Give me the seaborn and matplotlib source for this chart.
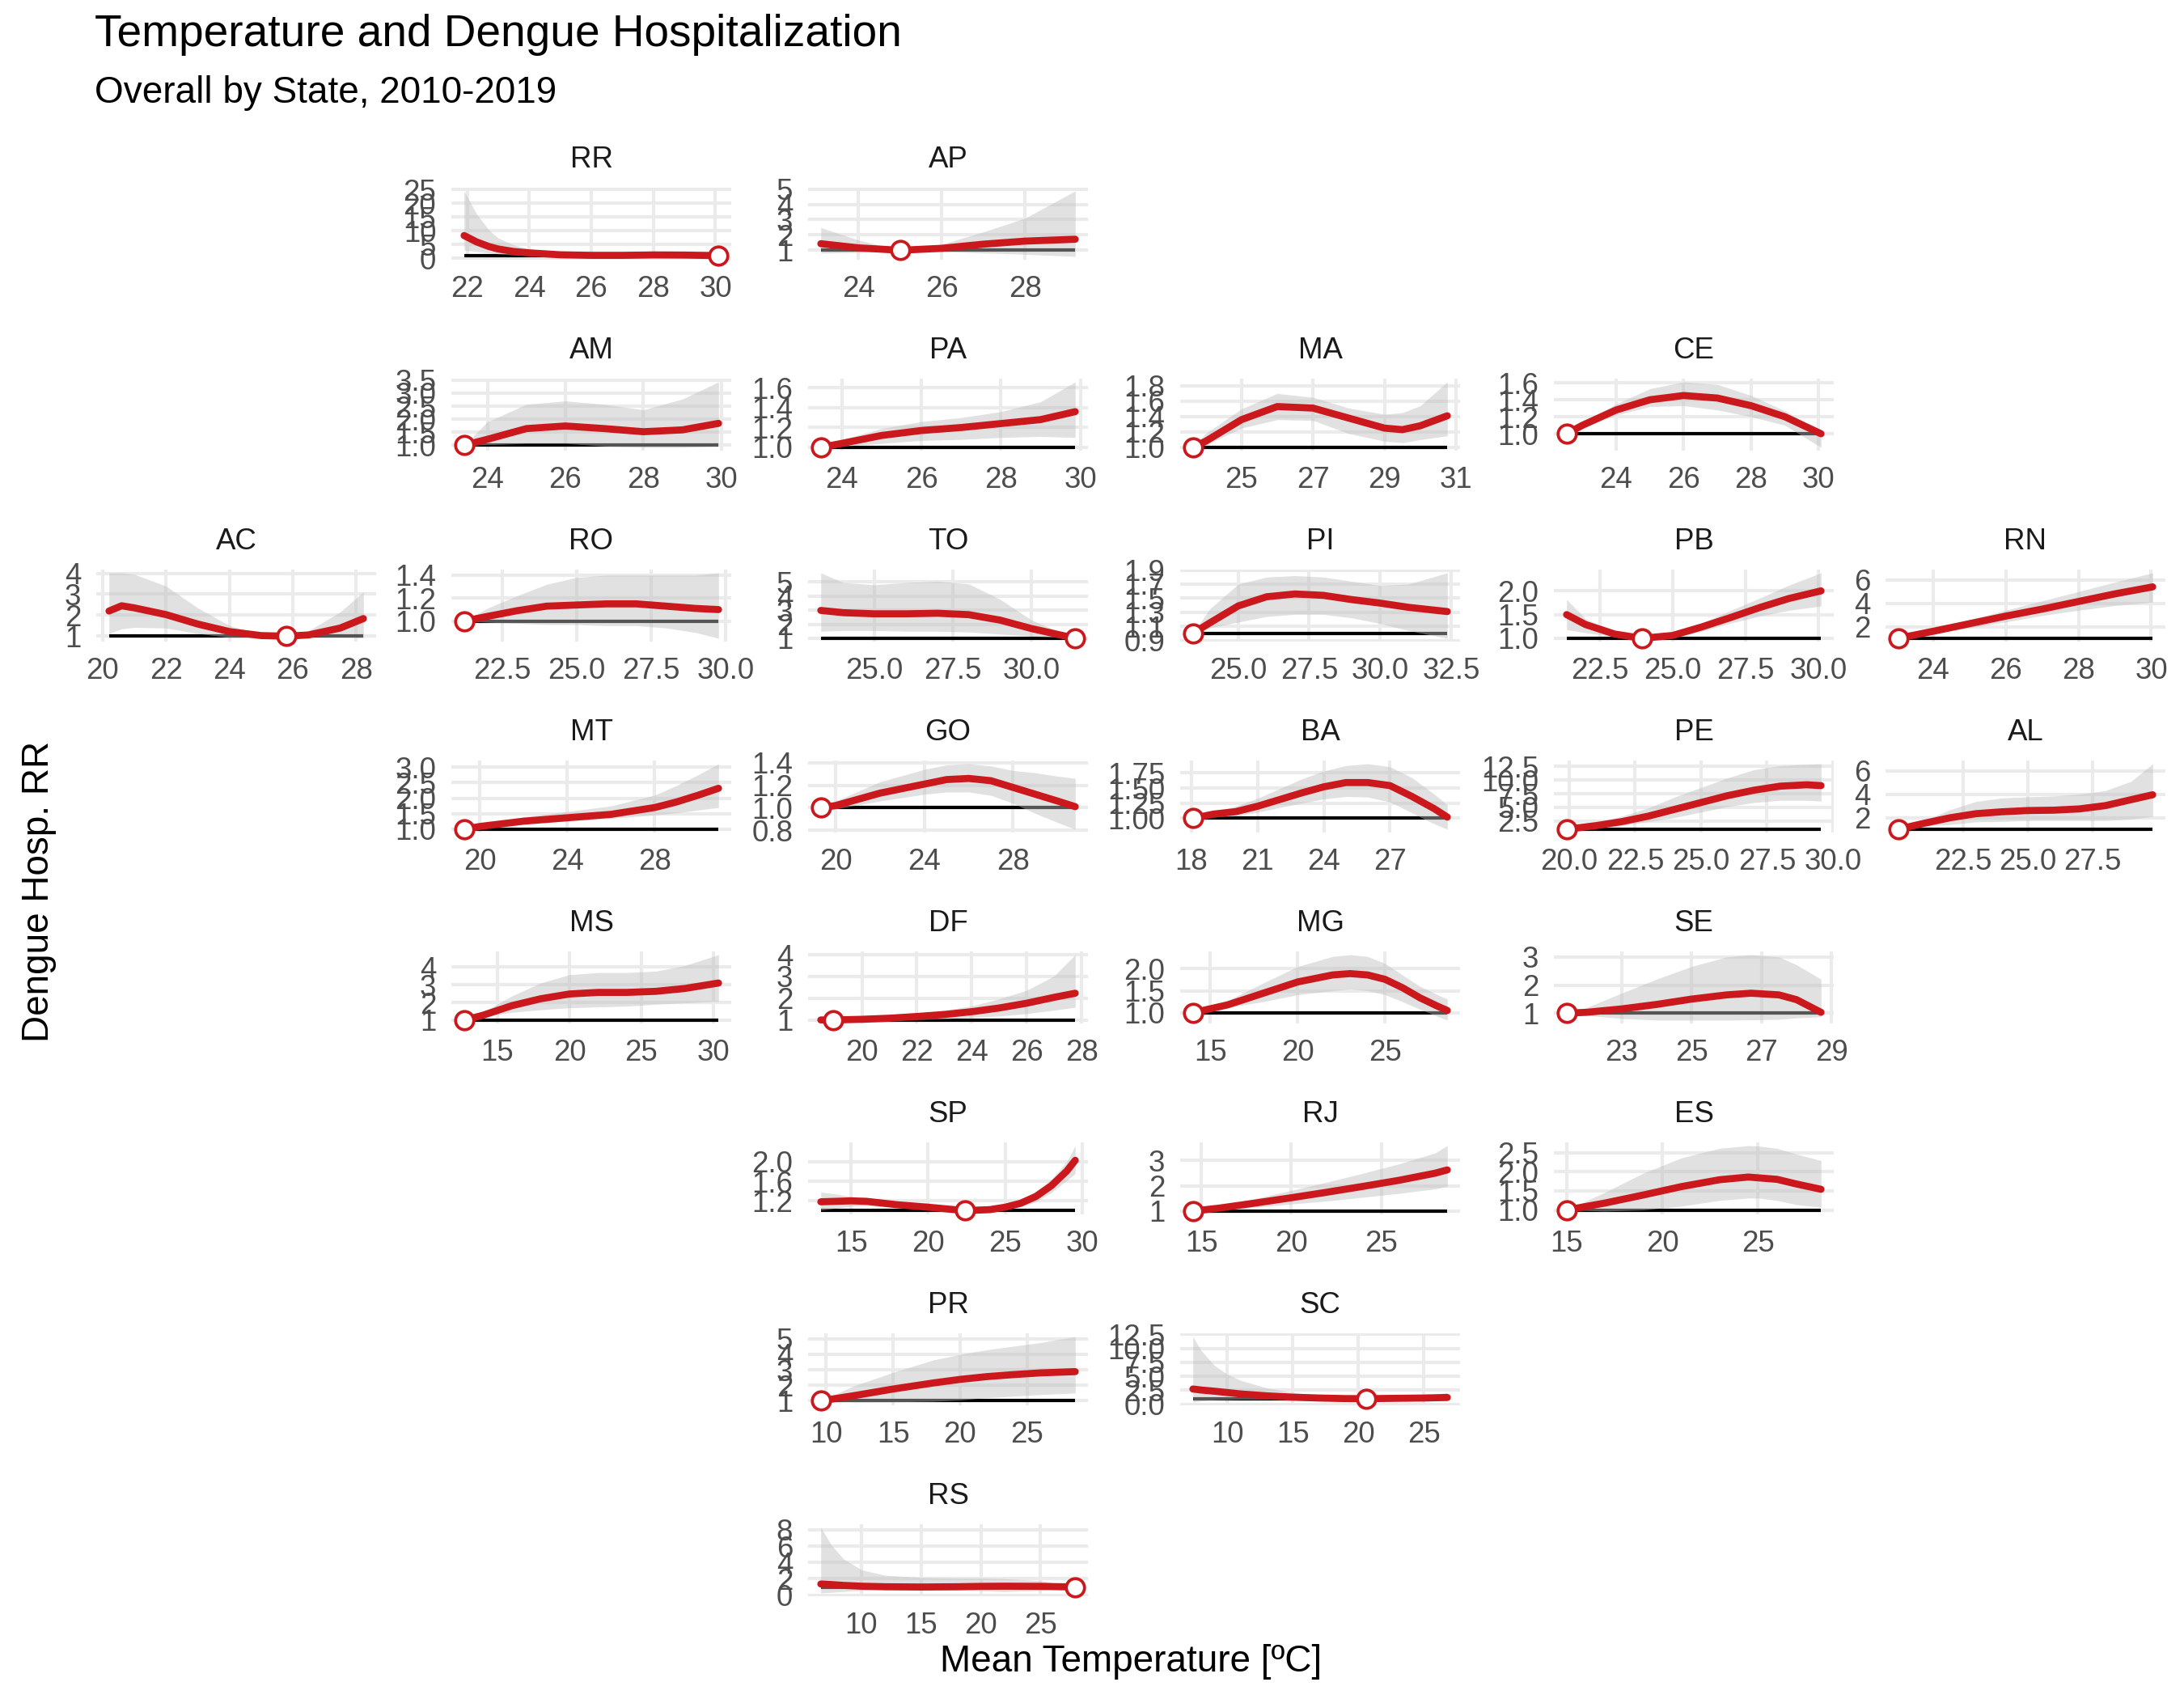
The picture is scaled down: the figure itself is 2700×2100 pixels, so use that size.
import numpy as np
import pandas as pd
import seaborn as sns
import matplotlib.pyplot as plt

# Relative risk curves (with 95% CI), per state
states = ['RR', 'AP', 'AM', 'PA', 'MA', 'CE', 'AC', 'RO', 'TO', 'PI', 'PB', 'RN',
          'MT', 'GO', 'BA', 'PE', 'AL', 'MS', 'DF', 'MG', 'SE', 'SP', 'RJ', 'ES',
          'PR', 'SC', 'RS']

temp = {
    'RR': [21.9, 22.3, 22.7, 23.0, 23.5, 24.0, 25.0, 26.0, 27.0, 28.0, 29.0, 30.1],
    'AP': [23.1, 24.0, 25.0, 26.0, 27.0, 28.0, 29.2],
    'AM': [23.4, 24.0, 25.0, 26.0, 27.0, 28.0, 29.0, 29.93],
    'PA': [23.47, 24.0, 25.0, 26.0, 27.0, 28.0, 29.0, 29.87],
    'MA': [23.64, 24.0, 25.0, 26.0, 27.0, 28.0, 29.0, 29.5, 30.0, 30.76],
    'CE': [22.53, 23.0, 24.0, 25.0, 26.0, 27.0, 28.0, 29.0, 30.07],
    'AC': [20.2, 20.6, 21.0, 22.0, 23.0, 24.0, 25.0, 25.8, 26.5, 27.5, 28.23],
    'RO': [21.23, 22.0, 23.0, 24.0, 25.0, 26.0, 27.0, 28.0, 29.0, 29.76],
    'TO': [23.29, 24.0, 25.0, 26.0, 27.0, 28.0, 29.0, 30.0, 31.39],
    'PI': [23.4, 24.0, 25.0, 26.0, 27.0, 28.0, 29.0, 30.0, 31.0, 32.37],
    'PB': [21.35, 22.0, 23.0, 23.94, 25.0, 26.0, 27.0, 28.0, 29.0, 30.1],
    'RN': [23.04, 24.0, 25.0, 26.0, 27.0, 28.0, 29.0, 30.04],
    'MT': [19.27, 20.0, 22.0, 24.0, 26.0, 28.0, 29.0, 30.0, 30.92],
    'GO': [19.33, 20.0, 22.0, 24.0, 25.0, 26.0, 27.0, 28.0, 29.0, 30.0, 30.8],
    'BA': [18.06, 19.0, 20.0, 21.0, 22.0, 23.0, 24.0, 25.0, 26.0, 27.0, 28.0, 29.0, 29.6],
    'PE': [19.9, 21.0, 22.0, 23.0, 24.0, 25.0, 26.0, 27.0, 28.0, 29.0, 29.55],
    'AL': [20.0, 21.0, 22.0, 23.0, 24.0, 25.0, 26.0, 27.0, 28.0, 29.0, 29.83],
    'MS': [12.68, 14.0, 16.0, 18.0, 20.0, 22.0, 24.0, 26.0, 28.0, 30.36],
    'DF': [18.5, 18.95, 20.0, 21.0, 22.0, 23.0, 24.0, 25.0, 26.0, 27.0, 27.77],
    'MG': [14.0, 16.0, 18.0, 20.0, 22.0, 23.0, 24.0, 25.0, 26.0, 27.0, 28.0, 28.57],
    'SE': [21.43, 22.0, 23.0, 24.0, 25.0, 26.0, 26.7, 27.5, 28.0, 28.7],
    'SP': [13.03, 14.0, 15.0, 16.0, 18.0, 20.0, 22.4, 24.0, 25.0, 26.0, 27.0, 28.0, 29.0, 29.55],
    'RJ': [14.52, 16.0, 18.0, 20.0, 22.0, 24.0, 26.0, 28.0, 28.68],
    'ES': [15.0, 17.0, 19.0, 21.0, 23.0, 24.5, 25.0, 26.0, 27.0, 28.3],
    'PR': [9.6, 12.0, 15.0, 18.0, 20.0, 22.0, 24.0, 26.0, 28.6],
    'SC': [7.38, 8.0, 9.0, 10.0, 11.0, 13.0, 15.0, 17.0, 19.0, 20.6, 23.0, 25.0, 26.8],
    'RS': [6.6, 7.5, 8.5, 10.0, 12.0, 15.0, 18.0, 20.0, 22.0, 25.0, 27.9],
}

rr = {
    'RR': [8.3, 6.0, 4.3, 3.4, 2.5, 2.0, 1.3, 1.1, 1.1, 1.25, 1.2, 1.0],
    'AP': [1.43, 1.16, 1.0, 1.13, 1.4, 1.6, 1.72],
    'AM': [1.0, 1.23, 1.64, 1.74, 1.64, 1.52, 1.59, 1.84],
    'PA': [1.0, 1.04, 1.12, 1.17, 1.2, 1.24, 1.28, 1.36],
    'MA': [1.0, 1.08, 1.36, 1.53, 1.51, 1.38, 1.25, 1.23, 1.28, 1.41],
    'CE': [1.0, 1.1, 1.28, 1.4, 1.45, 1.42, 1.33, 1.2, 1.0],
    'AC': [2.2, 2.45, 2.35, 2.03, 1.58, 1.22, 1.03, 1.0, 1.06, 1.39, 1.84],
    'RO': [1.0, 1.04, 1.09, 1.13, 1.14, 1.15, 1.15, 1.13, 1.11, 1.1],
    'TO': [2.98, 2.82, 2.74, 2.74, 2.78, 2.68, 2.29, 1.69, 1.0],
    'PI': [1.0, 1.15, 1.39, 1.52, 1.56, 1.54, 1.48, 1.43, 1.37, 1.31],
    'PB': [1.5, 1.29, 1.09, 1.0, 1.06, 1.24, 1.44, 1.65, 1.84, 2.0],
    'RN': [1.0, 1.6, 2.25, 2.9, 3.5, 4.15, 4.8, 5.4],
    'MT': [1.0, 1.09, 1.26, 1.37, 1.48, 1.7, 1.88, 2.1, 2.32],
    'GO': [1.0, 1.02, 1.13, 1.21, 1.25, 1.26, 1.24, 1.18, 1.12, 1.06, 1.01],
    'BA': [1.0, 1.07, 1.11, 1.2, 1.31, 1.42, 1.52, 1.59, 1.59, 1.54, 1.36, 1.16, 1.02],
    'PE': [1.0, 1.65, 2.4, 3.4, 4.65, 5.9, 7.15, 8.15, 8.9, 9.15, 9.0],
    'AL': [1.0, 1.51, 1.98, 2.33, 2.49, 2.6, 2.63, 2.74, 3.02, 3.53, 3.95],
    'MS': [1.0, 1.28, 1.82, 2.21, 2.48, 2.57, 2.57, 2.63, 2.79, 3.1],
    'DF': [1.0, 1.0, 1.03, 1.08, 1.16, 1.25, 1.38, 1.55, 1.77, 2.04, 2.23],
    'MG': [1.0, 1.18, 1.44, 1.7, 1.86, 1.89, 1.86, 1.76, 1.57, 1.34, 1.15, 1.05],
    'SE': [1.0, 1.03, 1.15, 1.31, 1.5, 1.65, 1.71, 1.65, 1.48, 1.03],
    'SP': [1.18, 1.19, 1.2, 1.19, 1.12, 1.07, 1.0, 1.02, 1.07, 1.15, 1.29, 1.51, 1.81, 2.03],
    'RJ': [1.0, 1.12, 1.32, 1.53, 1.75, 1.98, 2.22, 2.5, 2.63],
    'ES': [1.0, 1.18, 1.39, 1.61, 1.79, 1.86, 1.84, 1.8, 1.68, 1.54],
    'PR': [1.0, 1.32, 1.76, 2.15, 2.38, 2.56, 2.69, 2.8, 2.88],
    'SC': [2.73, 2.55, 2.34, 2.1, 1.85, 1.51, 1.27, 1.12, 1.02, 1.0, 1.07, 1.12, 1.22],
    'RS': [1.37, 1.3, 1.2, 1.1, 1.03, 1.0, 1.03, 1.08, 1.1, 1.08, 1.0],
}

rr_low = {
    'RR': [3.0, 2.5, 2.0, 1.6, 1.2, 1.0, 0.8, 0.7, 0.7, 0.75, 0.8, 1.0],
    'AP': [0.82, 0.85, 1.0, 0.92, 0.82, 0.74, 0.6],
    'AM': [1.0, 1.02, 1.07, 1.07, 0.97, 0.92, 0.92, 0.97],
    'PA': [1.0, 1.01, 1.04, 1.07, 1.08, 1.1, 1.11, 1.1],
    'MA': [1.0, 1.03, 1.25, 1.36, 1.35, 1.18, 1.08, 1.06, 1.1, 1.15],
    'CE': [1.0, 1.07, 1.22, 1.32, 1.33, 1.28, 1.2, 1.1, 0.84],
    'AC': [1.13, 1.35, 1.42, 1.39, 1.13, 0.94, 0.9, 1.0, 0.97, 0.95, 0.93],
    'RO': [1.0, 0.99, 0.98, 0.97, 0.97, 0.96, 0.96, 0.94, 0.9, 0.85],
    'TO': [1.5, 1.55, 1.55, 1.5, 1.5, 1.45, 1.3, 1.15, 1.0],
    'PI': [1.0, 1.08, 1.16, 1.24, 1.27, 1.27, 1.22, 1.14, 1.04, 0.93],
    'PB': [1.18, 1.12, 1.03, 1.0, 1.02, 1.15, 1.32, 1.47, 1.59, 1.68],
    'RN': [1.0, 1.4, 1.9, 2.4, 2.95, 3.4, 3.8, 4.1],
    'MT': [1.0, 1.04, 1.18, 1.26, 1.35, 1.46, 1.53, 1.62, 1.7],
    'GO': [1.0, 0.99, 1.06, 1.12, 1.14, 1.14, 1.11, 1.04, 0.95, 0.87, 0.81],
    'BA': [1.0, 1.02, 1.04, 1.1, 1.18, 1.25, 1.32, 1.36, 1.35, 1.27, 1.09, 0.91, 0.82],
    'PE': [1.0, 1.15, 1.65, 2.4, 3.15, 4.15, 5.15, 5.9, 6.3, 6.3, 6.15],
    'AL': [1.0, 1.28, 1.4, 1.63, 1.67, 1.74, 1.74, 1.74, 1.74, 1.86, 2.1],
    'MS': [1.0, 1.2, 1.44, 1.59, 1.7, 1.75, 1.79, 1.9, 1.98, 2.06],
    'DF': [1.0, 1.0, 0.99, 0.99, 1.01, 1.05, 1.12, 1.18, 1.29, 1.45, 1.58],
    'MG': [1.0, 1.12, 1.25, 1.41, 1.5, 1.54, 1.5, 1.41, 1.25, 1.08, 0.92, 0.83],
    'SE': [1.0, 0.92, 0.81, 0.75, 0.75, 0.75, 0.76, 0.78, 0.83, 0.87],
    'SP': [1.01, 1.05, 1.09, 1.1, 1.07, 1.03, 1.0, 0.99, 1.02, 1.08, 1.18, 1.37, 1.62, 1.76],
    'RJ': [1.0, 1.05, 1.15, 1.28, 1.4, 1.55, 1.7, 1.88, 1.98],
    'ES': [1.0, 0.97, 1.0, 1.1, 1.25, 1.31, 1.31, 1.25, 1.14, 1.07],
    'PR': [1.0, 0.92, 0.93, 0.97, 1.05, 1.2, 1.3, 1.4, 1.5],
    'SC': [0.4, 0.6, 0.78, 0.83, 0.88, 0.88, 0.88, 0.9, 0.93, 1.0, 0.88, 0.78, 0.63],
    'RS': [0.27, 0.35, 0.45, 0.6, 0.7, 0.7, 0.6, 0.55, 0.43, 0.6, 1.0],
}

rr_high = {
    'RR': [24.5, 16.2, 10.3, 7.4, 4.9, 3.4, 2.3, 2.0, 2.0, 2.0, 1.8, 1.0],
    'AP': [2.48, 1.67, 1.0, 1.4, 2.2, 3.1, 4.87],
    'AM': [1.0, 1.9, 2.57, 2.7, 2.57, 2.36, 2.77, 3.43],
    'PA': [1.0, 1.08, 1.19, 1.26, 1.3, 1.36, 1.46, 1.66],
    'MA': [1.0, 1.18, 1.5, 1.7, 1.65, 1.51, 1.43, 1.45, 1.54, 1.85],
    'CE': [1.0, 1.14, 1.35, 1.53, 1.61, 1.58, 1.45, 1.27, 1.02],
    'AC': [4.02, 4.02, 3.95, 3.39, 2.35, 1.51, 1.06, 1.0, 1.26, 2.16, 3.12],
    'RO': [1.0, 1.11, 1.22, 1.32, 1.38, 1.4, 1.4, 1.4, 1.4, 1.42],
    'TO': [5.65, 4.96, 4.8, 4.96, 5.06, 4.86, 3.77, 2.29, 1.0],
    'PI': [1.0, 1.35, 1.7, 1.8, 1.82, 1.8, 1.74, 1.68, 1.7, 1.86],
    'PB': [1.82, 1.41, 1.15, 1.0, 1.12, 1.32, 1.59, 1.85, 2.12, 2.38],
    'RN': [1.0, 1.8, 2.6, 3.4, 4.2, 5.0, 5.8, 6.6],
    'MT': [1.0, 1.13, 1.4, 1.57, 1.75, 2.1, 2.41, 2.76, 3.11],
    'GO': [1.0, 1.06, 1.23, 1.34, 1.38, 1.39, 1.37, 1.33, 1.31, 1.28, 1.26],
    'BA': [1.0, 1.11, 1.2, 1.33, 1.49, 1.65, 1.78, 1.87, 1.9, 1.85, 1.67, 1.4, 1.22],
    'PE': [1.0, 2.15, 3.4, 4.9, 6.9, 8.65, 10.4, 11.9, 12.65, 12.9, 13.0],
    'AL': [1.0, 1.74, 2.67, 3.37, 3.67, 3.77, 3.84, 4.0, 4.3, 5.1, 6.6],
    'MS': [1.0, 1.44, 2.37, 3.1, 3.57, 3.69, 3.69, 3.77, 4.08, 4.7],
    'DF': [1.0, 1.0, 1.05, 1.18, 1.31, 1.45, 1.64, 1.97, 2.36, 3.02, 4.0],
    'MG': [1.0, 1.28, 1.67, 2.05, 2.28, 2.32, 2.28, 2.12, 1.86, 1.6, 1.41, 1.31],
    'SE': [1.0, 1.2, 1.71, 2.21, 2.66, 3.0, 3.08, 3.0, 2.72, 2.21],
    'SP': [1.38, 1.34, 1.29, 1.23, 1.15, 1.09, 1.0, 1.05, 1.12, 1.23, 1.4, 1.64, 2.0, 2.33],
    'RJ': [1.0, 1.2, 1.5, 1.82, 2.15, 2.5, 2.87, 3.3, 3.59],
    'ES': [1.0, 1.46, 1.96, 2.36, 2.61, 2.68, 2.67, 2.61, 2.46, 2.29],
    'PR': [1.0, 1.94, 2.83, 3.63, 3.99, 4.29, 4.52, 4.75, 5.14],
    'SC': [12.1, 9.66, 6.98, 5.37, 4.29, 2.93, 2.1, 1.61, 1.27, 1.0, 1.27, 1.46, 2.1],
    'RS': [8.27, 6.1, 4.43, 3.1, 2.43, 2.17, 2.1, 2.1, 2.03, 1.77, 1.0],
}

# minimum hospitalization temperature (reference point, RR = 1)
mmt = {
    'RR': 30.1, 'AP': 25.0, 'AM': 23.4, 'PA': 23.47, 'MA': 23.64, 'CE': 22.53,
    'AC': 25.8, 'RO': 21.23, 'TO': 31.39, 'PI': 23.4, 'PB': 23.94, 'RN': 23.04,
    'MT': 19.27, 'GO': 19.33, 'BA': 18.06, 'PE': 19.9, 'AL': 20.0, 'MS': 12.68,
    'DF': 18.95, 'MG': 14.0, 'SE': 21.43, 'SP': 22.4, 'RJ': 14.52, 'ES': 15.0,
    'PR': 9.6, 'SC': 20.6, 'RS': 27.9,
}

x_tick_labels = {
    'RR': ['22', '24', '26', '28', '30'], 'AP': ['24', '26', '28'],
    'AM': ['24', '26', '28', '30'], 'PA': ['24', '26', '28', '30'],
    'MA': ['25', '27', '29', '31'], 'CE': ['24', '26', '28', '30'],
    'AC': ['20', '22', '24', '26', '28'], 'RO': ['22.5', '25.0', '27.5', '30.0'],
    'TO': ['25.0', '27.5', '30.0'], 'PI': ['25.0', '27.5', '30.0', '32.5'],
    'PB': ['22.5', '25.0', '27.5', '30.0'], 'RN': ['24', '26', '28', '30'],
    'MT': ['20', '24', '28'], 'GO': ['20', '24', '28'], 'BA': ['18', '21', '24', '27'],
    'PE': ['20.0', '22.5', '25.0', '27.5', '30.0'], 'AL': ['22.5', '25.0', '27.5'],
    'MS': ['15', '20', '25', '30'], 'DF': ['18', '20', '22', '24', '26', '28'],
    'MG': ['15', '20', '25'], 'SE': ['23', '25', '27', '29'],
    'SP': ['15', '20', '25', '30'], 'RJ': ['15', '20', '25'], 'ES': ['15', '20', '25'],
    'PR': ['10', '15', '20', '25'], 'SC': ['10', '15', '20', '25'],
    'RS': ['10', '15', '20', '25'],
}

y_tick_labels = {
    'RR': ['0', '5', '10', '15', '20', '25'], 'AP': ['1', '2', '3', '4', '5'],
    'AM': ['1.0', '1.5', '2.0', '2.5', '3.0', '3.5'], 'PA': ['1.0', '1.2', '1.4', '1.6'],
    'MA': ['1.0', '1.2', '1.4', '1.6', '1.8'], 'CE': ['1.0', '1.2', '1.4', '1.6'],
    'AC': ['1', '2', '3', '4'], 'RO': ['1.0', '1.2', '1.4'],
    'TO': ['1', '2', '3', '4', '5'], 'PI': ['0.9', '1.1', '1.3', '1.5', '1.7', '1.9'],
    'PB': ['1.0', '1.5', '2.0'], 'RN': ['2', '4', '6'],
    'MT': ['1.0', '1.5', '2.0', '2.5', '3.0'], 'GO': ['0.8', '1.0', '1.2', '1.4'],
    'BA': ['1.00', '1.25', '1.50', '1.75'], 'PE': ['2.5', '5.0', '7.5', '10.0', '12.5'],
    'AL': ['2', '4', '6'], 'MS': ['1', '2', '3', '4'], 'DF': ['1', '2', '3', '4'],
    'MG': ['1.0', '1.5', '2.0'], 'SE': ['1', '2', '3'], 'SP': ['1.2', '1.6', '2.0'],
    'RJ': ['1', '2', '3'], 'ES': ['1.0', '1.5', '2.0', '2.5'],
    'PR': ['1', '2', '3', '4', '5'], 'SC': ['0.0', '2.5', '5.0', '7.5', '10.0', '12.5'],
    'RS': ['0', '2', '4', '6', '8'],
}

# geofacet layout (row, column) of the Brazil grid
grid_pos = {
    'RR': (0, 1), 'AP': (0, 2),
    'AM': (1, 1), 'PA': (1, 2), 'MA': (1, 3), 'CE': (1, 4),
    'AC': (2, 0), 'RO': (2, 1), 'TO': (2, 2), 'PI': (2, 3), 'PB': (2, 4), 'RN': (2, 5),
    'MT': (3, 1), 'GO': (3, 2), 'BA': (3, 3), 'PE': (3, 4), 'AL': (3, 5),
    'MS': (4, 1), 'DF': (4, 2), 'MG': (4, 3), 'SE': (4, 4),
    'SP': (5, 2), 'RJ': (5, 3), 'ES': (5, 4),
    'PR': (6, 2), 'SC': (6, 3),
    'RS': (7, 2),
}

# panel geometry in pixels of the 2700x2100 output
W, H = 2700, 2100
col_left = [119, 558, 999, 1459, 1921, 2331]
row_top0, row_step = 232, 236
panel_w, panel_h = 346, 89

red = '#CB181D'
ref_rr = 1.0

sns.set_theme(style='white')
plt.rcParams['font.family'] = ['Liberation Sans', 'DejaVu Sans']

fig = plt.figure(figsize=(9, 7), dpi=300)

for st in states:
    r, c = grid_pos[st]
    top = row_top0 + r * row_step
    ax = fig.add_axes([col_left[c] / W, 1 - (top + panel_h) / H, panel_w / W, panel_h / H])

    df = pd.DataFrame({'temp': temp[st], 'rr': rr[st],
                       'low': rr_low[st], 'high': rr_high[st]})

    ax.hlines(ref_rr, df['temp'].min(), df['temp'].max(), color='black', lw=1.0, zorder=2)
    ax.fill_between(df['temp'], df['low'], df['high'], color='#bdbdbd', alpha=0.45,
                    lw=0, zorder=3)
    sns.lineplot(data=df, x='temp', y='rr', color=red, lw=2.1, ax=ax, zorder=4)
    ax.plot([mmt[st]], [ref_rr], 'o', ms=5.4, mfc='white', mec=red, mew=0.9,
            zorder=5, clip_on=False)

    xl, yl = ax.get_xlim(), ax.get_ylim()
    xt = [float(v) for v in x_tick_labels[st]]
    yt = [float(v) for v in y_tick_labels[st]]
    ax.set_xticks(xt, x_tick_labels[st])
    ax.set_yticks(yt, y_tick_labels[st])
    ax.set_xlim(xl)
    ax.set_ylim(yl)

    ax.set_xlabel('')
    ax.set_ylabel('')
    ax.grid(True, color='#EBEBEB', lw=1.0)
    ax.set_axisbelow(True)
    for sp in ax.spines.values():
        sp.set_visible(False)
    ax.tick_params(length=0, pad=4.5, labelsize=8.8, labelcolor='#4D4D4D')
    ax.annotate(st, xy=(0.5, 1), xycoords='axes fraction', xytext=(0, 8.2),
                textcoords='offset points', ha='center', va='center',
                fontsize=8.8, color='#1A1A1A')

fig.text(117 / W, 1 - 43 / H, 'Temperature and Dengue Hospitalization',
         fontsize=13.2, ha='left', va='center', color='black')
fig.text(117 / W, 1 - 115 / H, 'Overall by State, 2010-2019',
         fontsize=11, ha='left', va='center', color='black')
fig.text(1398 / W, 1 - 2054 / H, 'Mean Temperature [ºC]',
         fontsize=11, ha='center', va='center', color='black')
fig.text(48 / W, 1 - 1102 / H, 'Dengue Hosp. RR', rotation=90,
         fontsize=11, ha='center', va='center', color='black')

fig.savefig('out.png', dpi=300, facecolor='white')
